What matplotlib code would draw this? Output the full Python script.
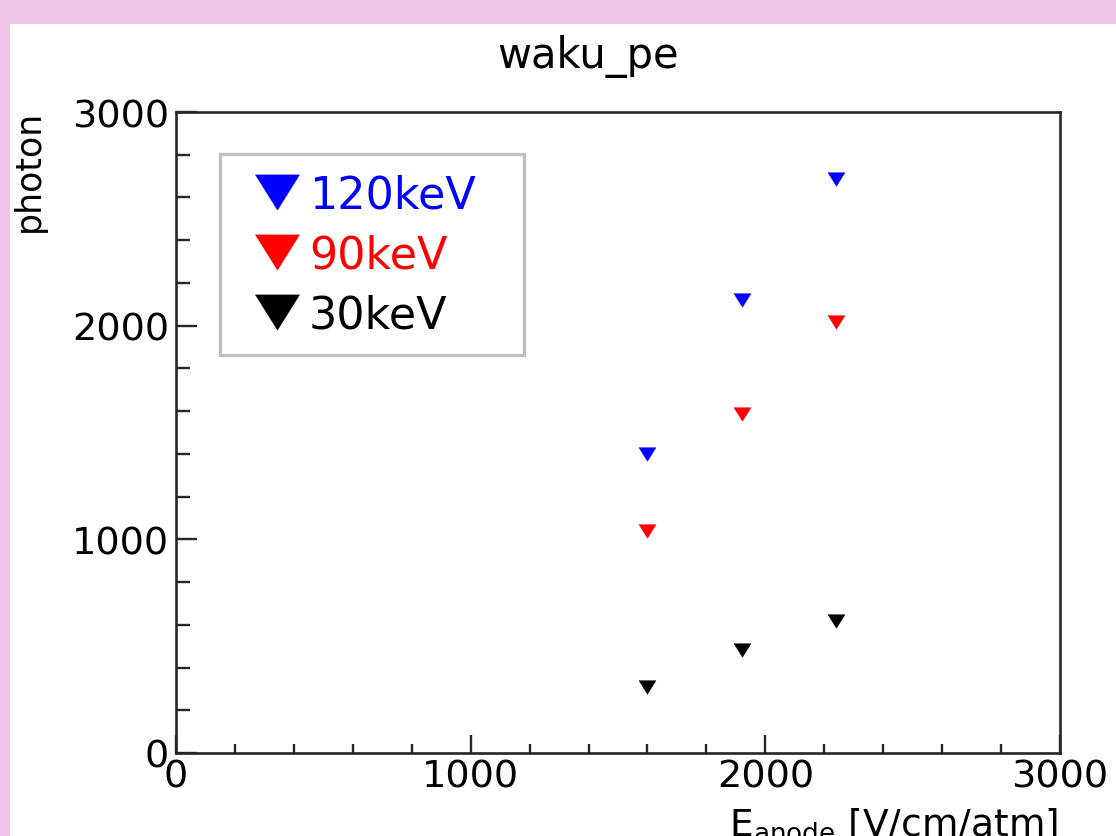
import numpy as np
import matplotlib
matplotlib.use("Agg")
import matplotlib.pyplot as plt
from matplotlib.patches import Rectangle
from matplotlib.ticker import MultipleLocator

plt.rcParams['font.family'] = ['DejaVu Sans']
plt.rcParams['mathtext.fontset'] = 'dejavusans'

# Anode field [V/cm/atm] and photon counts per source energy
e_anode = [1600, 1920, 2240]
photon_120kev = [1400, 2119, 2685]
photon_90kev = [1038, 1587, 2018]
photon_30kev = [307, 483, 617]

series = [("120keV", photon_120kev, "#0000ff"),
          ("90keV", photon_90kev, "#ff0000"),
          ("30keV", photon_30kev, "#000000")]

# ROOT-like downward triangle (a bit wider than tall)
tri = [(-1, 0.8), (1, 0.8), (0, -0.8), (-1, 0.8)]

pink = "#f0c3e9"
axcol = "#262626"

fig = plt.figure(figsize=(11.16, 8.37), dpi=100)
fig.patch.set_facecolor(pink)
# white canvas area
fig.patches.append(Rectangle((10/1116, 0), 1 - 10/1116, 1 - 25/837,
                             transform=fig.transFigure, facecolor="white",
                             edgecolor="none", zorder=-5))

ax = fig.add_axes([176/1116, 83/837, 884/1116, 641/837])
ax.set_facecolor("white")

for name, vals, col in series:
    ax.plot(e_anode, vals, linestyle="none", marker=tri, markersize=12.2,
            markerfacecolor=col, markeredgecolor=col, markeredgewidth=0.3,
            label=name)

ax.set_xlim(0, 3000)
ax.set_ylim(0, 3000)
ax.xaxis.set_major_locator(MultipleLocator(1000))
ax.xaxis.set_minor_locator(MultipleLocator(200))
ax.yaxis.set_major_locator(MultipleLocator(1000))
ax.yaxis.set_minor_locator(MultipleLocator(200))

for sp in ax.spines.values():
    sp.set_color(axcol)
    sp.set_linewidth(1.9)

ax.tick_params(axis="x", which="major", direction="in", length=13, width=1.7,
               color=axcol, labelsize=27.5, pad=4, top=False)
ax.tick_params(axis="x", which="minor", direction="in", length=6.5, width=1.7,
               color=axcol, top=False)
ax.tick_params(axis="y", which="major", direction="in", length=15, width=1.7,
               color=axcol, labelsize=27.5, pad=5, right=False)
ax.tick_params(axis="y", which="minor", direction="in", length=10, width=1.7,
               color=axcol, right=False)

leg = ax.legend(loc="upper left", bbox_to_anchor=(0.0498, 0.6345, 0.344, 0.3),
                mode="expand", fontsize=32, markerscale=2.6,
                handlelength=1.71, handletextpad=-0.145, labelspacing=0.38,
                borderpad=0.435, borderaxespad=0, fancybox=False, framealpha=1)
leg.get_frame().set_edgecolor("#c0c0c0")
leg.get_frame().set_linewidth(2.4)
for txt, (_, _, col) in zip(leg.get_texts(), series):
    txt.set_color(col)

fig.text(588/1116, (837-68)/837, "waku_pe", ha="center", va="baseline",
         fontsize=30)
fig.text(12/1116, (837-110)/837, "photon", rotation=90, ha="left", va="top",
         fontsize=25)
fig.text(1058/1116, 1/837, r"$\mathrm{E_{anode}}$ [V/cm/atm]", ha="right",
         va="baseline", fontsize=27)

fig.savefig("out.png", dpi=100, facecolor=fig.get_facecolor())
